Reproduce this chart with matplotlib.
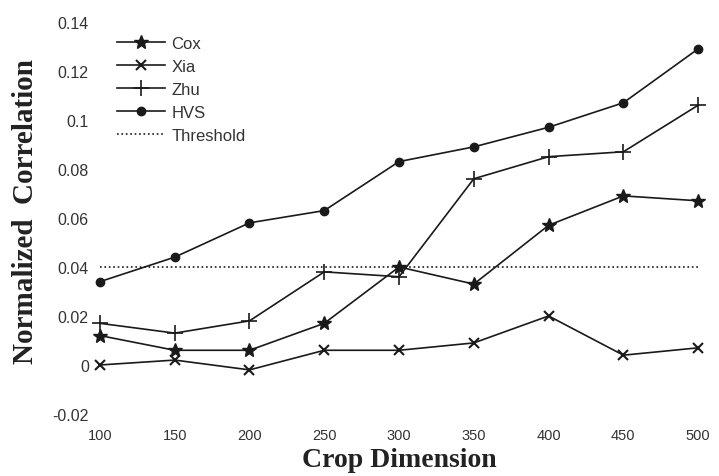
import numpy as np
import matplotlib
matplotlib.use("Agg")
import matplotlib.pyplot as plt

# crop sizes and the correlation of each detector
crop = [100, 150, 200, 250, 300, 350, 400, 450, 500]
cox = [0.012, 0.006, 0.006, 0.017, 0.040, 0.033, 0.057, 0.069, 0.067]
xia = [0.000, 0.002, -0.002, 0.006, 0.006, 0.009, 0.020, 0.004, 0.007]
zhu = [0.017, 0.013, 0.018, 0.038, 0.036, 0.076, 0.085, 0.087, 0.106]
hvs = [0.034, 0.044, 0.058, 0.063, 0.083, 0.089, 0.097, 0.107, 0.129]
threshold = 0.04

yticks = [-0.02, 0, 0.02, 0.04, 0.06, 0.08, 0.1, 0.12, 0.14]
ytick_labels = ["-0.02", "0", "0.02", "0.04", "0.06", "0.08", "0.1", "0.12", "0.14"]

plt.rcParams["font.family"] = ["Liberation Sans", "DejaVu Sans"]

fig = plt.figure(figsize=(7.19, 4.77), dpi=100)
ax = fig.add_axes([0.139, 0.130, 0.832, 0.822])

line_kw = dict(color="#1a1a1a", lw=1.2, clip_on=False)
ax.plot(crop, cox, marker="*", ms=10, label="Cox", **line_kw)
ax.plot(crop, xia, marker="x", ms=7, mew=1.5, label="Xia", **line_kw)
ax.plot(crop, zhu, marker="+", ms=11, mew=1.2, label="Zhu", **line_kw)
ax.plot(crop, hvs, marker="o", ms=6, label="HVS", **line_kw)
ax.plot([crop[0], crop[-1]], [threshold, threshold], ls=":", color="#1a1a1a",
        lw=1.2, label="Threshold")

ax.set_xlim(100, 500)
ax.set_ylim(-0.02, 0.14)
ax.set_xticks(crop)
ax.set_yticks(yticks)
ax.set_yticklabels(ytick_labels)
ax.tick_params(length=0, labelcolor="#333333")
ax.tick_params(axis="x", pad=10, labelsize=10.5)
ax.tick_params(axis="y", pad=8, labelsize=11.5)
for s in ax.spines.values():
    s.set_visible(False)

label_font = dict(family="Liberation Serif", fontweight="bold", color="#222222")
ax.set_xlabel("Crop Dimension", va="center", fontsize=20, **label_font)
ax.set_ylabel("Normalized  Correlation", va="center", fontsize=21, **label_font)
ax.xaxis.set_label_coords(0.5, -0.115)
ax.yaxis.set_label_coords(-0.124, 0.518)

ax.legend(loc="upper left", bbox_to_anchor=(117 / 719, 1 - 37 / 477),
          bbox_transform=fig.transFigure, frameon=False, fontsize=12,
          handlelength=2.9, handletextpad=0.35, labelspacing=0.48,
          borderpad=0, borderaxespad=0, labelcolor="#333333")

fig.savefig("out.png", dpi=100)
